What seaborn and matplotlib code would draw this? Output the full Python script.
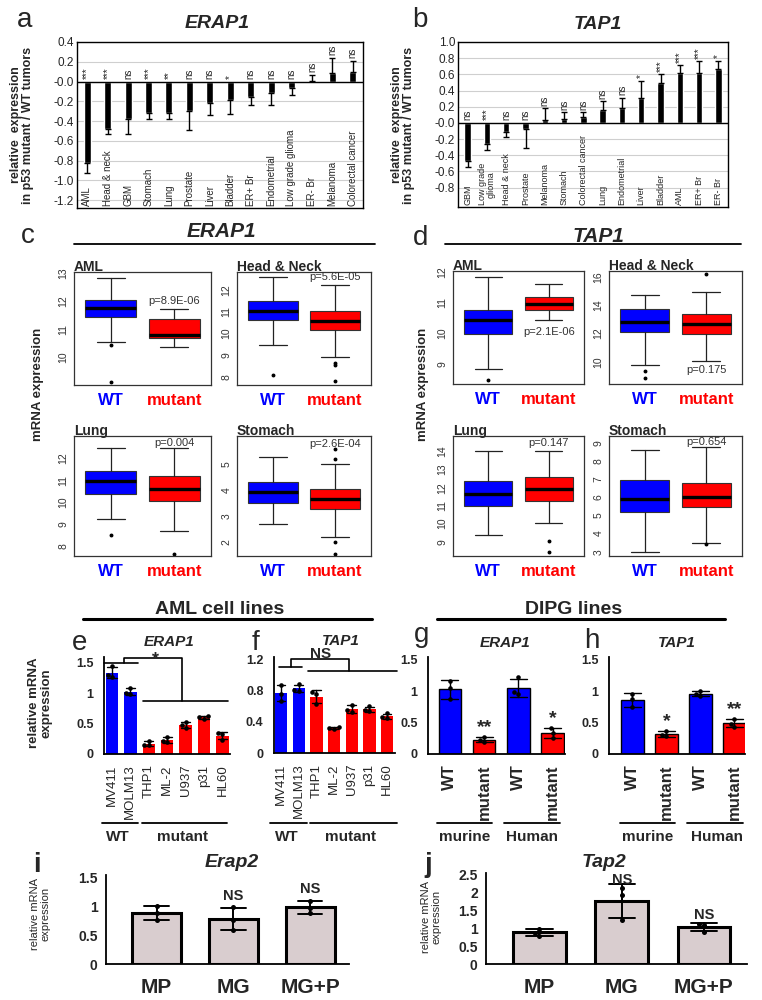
import numpy as np
import pandas as pd
import matplotlib.pyplot as plt
import seaborn as sns
from matplotlib.lines import Line2D
from matplotlib.ticker import FormatStrFormatter

sns.set_theme(style='white')
plt.rcParams['font.family'] = ['Liberation Sans', 'DejaVu Sans']
plt.rcParams['axes.unicode_minus'] = False

# --- panel a: ERAP1, mutant / WT ratio by tumour type ---
a_tumors = ['AML', 'Head & neck', 'GBM', 'Stomach', 'Lung', 'Prostate', 'Liver', 'Bladder',
            'ER+ Br', 'Endometrial', 'Low grade glioma', 'ER- Br', 'Melanoma', 'Colorectal cancer']
a_rel = [-0.82, -0.48, -0.38, -0.32, -0.32, -0.30, -0.22, -0.19, -0.16, -0.12, -0.07, 0.005, 0.09, 0.10]
a_err_end = [-0.93, -0.53, -0.53, -0.38, -0.38, -0.49, -0.34, -0.33, -0.24, -0.24, -0.14, 0.07, 0.24, 0.21]
a_sig = ['***', '***', 'ns', '***', '**', 'ns', 'ns', '*', 'ns', 'ns', 'ns', 'ns', 'ns', 'ns']

# --- panel b: TAP1 ---
b_tumors = ['GBM', 'Low grade\nglioma', 'Head & neck', 'Prostate', 'Melanoma', 'Stomach',
            'Colorectal cancer', 'Lung', 'Endometrial', 'Liver', 'Bladder', 'AML', 'ER+ Br', 'ER- Br']
b_rel = [-0.47, -0.26, -0.11, -0.07, 0.04, 0.05, 0.07, 0.16, 0.18, 0.31, 0.49, 0.62, 0.62, 0.67]
b_err_end = [-0.55, -0.34, -0.18, -0.31, 0.18, 0.135, 0.135, 0.265, 0.31, 0.52, 0.60, 0.71, 0.76, 0.77]
b_sig = ['ns', '***', 'ns', 'ns', 'ns', 'ns', 'ns', 'ns', 'ns', '*', '***', '***', '***', '*']

# --- panels c / d: box stats [whislo, q1, med, q3, whishi] ---
c_aml_wt, c_aml_mut = [10.55, 11.43, 11.75, 12.03, 12.83], [10.36, 10.69, 10.80, 11.38, 11.74]
c_aml_wt_out, c_aml_mut_out = [10.42, 9.1], []
c_hn_wt, c_hn_mut = [9.45, 10.6, 11.0, 11.5, 12.6], [8.92, 10.14, 10.55, 11.0, 12.23]
c_hn_wt_out, c_hn_mut_out = [8.1], [8.65, 8.56, 7.8]
c_lung_wt, c_lung_mut = [9.26, 10.35, 10.96, 11.4, 12.45], [8.68, 10.04, 10.62, 11.17, 12.45]
c_lung_wt_out, c_lung_mut_out = [8.53], [7.67]
c_st_wt, c_st_mut = [2.67, 3.49, 3.93, 4.29, 5.25], [2.17, 3.27, 3.65, 4.01, 5.0]
c_st_wt_out, c_st_mut_out = [], [5.19, 5.57, 2.0, 1.55]

d_aml_wt, d_aml_mut = [8.86, 10.0, 10.45, 10.77, 11.85], [10.45, 10.75, 10.97, 11.2, 11.62]
d_aml_wt_out, d_aml_mut_out = [8.49], []
d_hn_wt, d_hn_mut = [9.77, 12.1, 12.85, 13.75, 14.7], [10.1, 12.0, 12.65, 13.4, 14.95]
d_hn_wt_out, d_hn_mut_out = [9.4, 8.87], [16.2]
d_lung_wt, d_lung_mut = [9.37, 11.0, 11.66, 12.36, 14.03], [10.06, 11.23, 11.9, 12.6, 14.05]
d_lung_wt_out, d_lung_mut_out = [], [9.05, 8.4]
d_st_wt, d_st_mut = [2.97, 5.2, 5.94, 6.95, 8.6], [3.5, 5.48, 6.05, 6.8, 8.8]
d_st_wt_out, d_st_mut_out = [], [3.45]

# --- panels e / f: AML cell lines, triplicates ---
aml_lines = ['MV411', 'MOLM13', 'THP1', 'ML-2', 'U937', 'p31', 'HL60']
e_reps = [[1.44, 1.30, 1.27], [1.09, 1.00, 0.98], [0.22, 0.15, 0.14], [0.28, 0.21, 0.19],
          [0.52, 0.47, 0.43], [0.63, 0.60, 0.58], [0.34, 0.33, 0.23]]
f_reps = [[0.87, 0.76, 0.67], [0.88, 0.81, 0.80], [0.78, 0.76, 0.63], [0.33, 0.32, 0.31],
          [0.62, 0.55, 0.53], [0.60, 0.55, 0.54], [0.51, 0.46, 0.45]]

# --- panels g / h: DIPG lines ---
dipg_keys = ['WT murine', 'mutant murine', 'WT human', 'mutant human']
dipg_ticks = ['WT', 'mutant', 'WT', 'mutant']
g_reps = [[1.17, 1.05, 0.87], [0.27, 0.22, 0.19], [1.22, 0.98, 0.96], [0.41, 0.34, 0.26]]
h_reps = [[0.96, 0.87, 0.75], [0.37, 0.30, 0.29], [1.00, 0.95, 0.92], [0.56, 0.48, 0.43]]
g_sig = ['', '**', '', '*']
h_sig = ['', '*', '', '**']

# --- panels i / j ---
treat = ['MP', 'MG', 'MG+P']
i_reps = [[1.00, 0.89, 0.76], [0.98, 0.77, 0.60], [1.09, 0.97, 0.88]]
j_reps = [[0.99, 0.87, 0.79], [2.13, 1.92, 1.22], [1.12, 1.08, 0.90]]
i_sig = ['', 'NS', 'NS']
j_sig = ['', 'NS', 'NS']

BLUE, RED, GREY = '#0000ff', '#ff0000', '#d9cdcf'

W, H = 762, 1000
fig = plt.figure(figsize=(W / 100, H / 100), dpi=100)
fig.patch.set_facecolor('white')


def px_axes(x0, y0, x1, y1):
    return fig.add_axes([x0 / W, 1 - y1 / H, (x1 - x0) / W, (y1 - y0) / H])


def ftext(x, y, s, **kw):
    fig.text(x / W, 1 - y / H, s, **kw)


def fline(x0, x1, y, lw=1.3):
    fig.add_artist(Line2D([x0 / W, x1 / W], [1 - y / H, 1 - y / H], color='black', lw=lw))


def tumor_bars(ax, names, rel, err_end, sig, ylim, yticks, lab_fs):
    sns.barplot(x=names, y=rel, color='black', width=0.34, saturation=1, errorbar=None, ax=ax)
    idx = np.arange(len(names))
    rel_a, end = np.array(rel), np.array(err_end)
    down = np.where(end < rel_a, rel_a - end, 0)
    up = np.where(end > rel_a, end - rel_a, 0)
    ax.errorbar(idx, rel_a, yerr=[down, up], fmt='none', ecolor='black',
                elinewidth=1, capsize=2.5, capthick=1)
    for i, (n, e, s) in enumerate(zip(names, err_end, sig)):
        ax.text(i, max(0, e) + 0.03, s, rotation=90, ha='center', va='bottom', fontsize=7)
        ax.text(i, ylim[0] + 0.02, n, rotation=90, ha='center', va='bottom',
                fontsize=lab_fs, linespacing=0.85)
    ax.axhline(0, color='black', lw=1)
    ax.set_ylim(*ylim)
    ax.set_xlim(-0.5, len(names) - 0.5)
    ax.set_yticks(yticks)
    ax.yaxis.set_major_formatter(FormatStrFormatter('%.1f'))
    ax.set_xticks([])
    ax.grid(axis='y', color='#cfcfcf', lw=0.8)
    ax.set_axisbelow(True)
    ax.tick_params(axis='y', length=0, labelsize=8.5, pad=2)
    ax.set_xlabel('')
    ax.set_ylabel('')
    for sp in ax.spines.values():
        sp.set_color('black')
        sp.set_linewidth(1)


def box_pair(ax, wt, mut, wt_out, mut_out, ylim, yticks, title, ptxt, py):
    stats = []
    for s, out in ((wt, wt_out), (mut, mut_out)):
        stats.append(dict(whislo=s[0], q1=s[1], med=s[2], q3=s[3], whishi=s[4], fliers=out))
    bp = ax.bxp(stats, positions=[1, 2], widths=0.8, patch_artist=True, showfliers=True,
                capwidths=0.45,
                boxprops=dict(edgecolor='#333333', lw=0.8),
                medianprops=dict(color='black', lw=2.4),
                whiskerprops=dict(color='#222222', lw=0.9),
                capprops=dict(color='#222222', lw=0.9),
                flierprops=dict(marker='o', markersize=1.8, markerfacecolor='black',
                                markeredgecolor='black'))
    for patch, c in zip(bp['boxes'], [BLUE, RED]):
        patch.set_facecolor(c)
    ax.set_xlim(0.42, 2.58)
    ax.set_ylim(*ylim)
    ax.set_yticks(yticks)
    ax.yaxis.set_major_formatter(FormatStrFormatter('%g'))
    ax.set_xticks([1, 2])
    ax.set_xticklabels(['WT', 'mutant'], fontsize=12, fontweight='bold')
    for lab, c in zip(ax.get_xticklabels(), [BLUE, RED]):
        lab.set_color(c)
    for lab in ax.get_yticklabels():
        lab.set_rotation(90)
        lab.set_va('center')
    ax.tick_params(axis='both', direction='out', length=3, width=0.8, color='#333333')
    ax.tick_params(axis='y', labelsize=7.5, labelcolor='#333333', pad=1)
    ax.tick_params(axis='x', pad=3)
    ax.set_title(title, loc='left', fontweight='bold', fontsize=10, pad=1)
    ax.text(2, py, ptxt, ha='center', va='center', fontsize=8, color='#333333')
    for sp in ax.spines.values():
        sp.set_color('#333333')
        sp.set_linewidth(0.9)


def rep_bars(ax, keys, reps, colors, width, capsize, edgecolor, lw, err_lw, dot_size):
    df = pd.DataFrame({'grp': np.repeat(keys, [len(r) for r in reps]),
                       'val': np.concatenate(reps)})
    sns.barplot(data=df, x='grp', y='val', hue='grp', palette=dict(zip(keys, colors)),
                legend=False, order=keys, errorbar='sd', capsize=capsize, width=width,
                saturation=1, err_kws={'color': 'black', 'linewidth': err_lw},
                edgecolor=edgecolor, linewidth=lw, ax=ax)
    sns.swarmplot(data=df, x='grp', y='val', order=keys, color='black', size=dot_size, ax=ax)
    ax.set_xlabel('')
    ax.set_ylabel('')
    sns.despine(ax=ax)
    for sp in ('left', 'bottom'):
        ax.spines[sp].set_color('black')
        ax.spines[sp].set_linewidth(1.3)
    ax.tick_params(axis='both', direction='out', length=4, width=1.2, color='black')
    ax.yaxis.set_major_formatter(FormatStrFormatter('%g'))


# ---------------- a ----------------
ax = px_axes(77, 42, 363, 208)
tumor_bars(ax, a_tumors, a_rel, a_err_end, a_sig, (-1.28, 0.4),
           np.round(np.arange(-1.2, 0.41, 0.2), 1), 7)
ftext(25, 27, 'a', fontsize=20, ha='center', va='baseline')
ftext(217, 28, 'ERAP1', fontsize=14, fontweight='bold', style='italic', ha='center', va='baseline')
ftext(22, 125, 'relative  expression\nin p53 mutant / WT tumors', rotation=90, fontsize=9,
      fontweight='bold', ha='center', va='center', linespacing=1.1)

# ---------------- b ----------------
ax = px_axes(458, 42, 728, 207)
tumor_bars(ax, b_tumors, b_rel, b_err_end, b_sig, (-1.04, 1.0),
           np.round(np.arange(-0.8, 1.01, 0.2), 1), 6.5)
ftext(420, 27, 'b', fontsize=20, ha='center', va='baseline')
ftext(598, 29, 'TAP1', fontsize=14, fontweight='bold', style='italic', ha='center', va='baseline')
ftext(403, 125, 'relative  expression\nin p53 mutant / WT tumors', rotation=90, fontsize=9,
      fontweight='bold', ha='center', va='center', linespacing=1.1)

# ---------------- c ----------------
ftext(28, 243, 'c', fontsize=20, ha='center', va='baseline')
ftext(221, 237, 'ERAP1', fontsize=15, fontweight='bold', style='italic', ha='center', va='baseline')
fline(74, 375, 243.5)
ftext(38, 384, 'mRNA expression', rotation=90, fontsize=9.5, fontweight='bold',
      ha='center', va='center')
box_pair(px_axes(74, 272, 211, 385), c_aml_wt, c_aml_mut, c_aml_wt_out, c_aml_mut_out,
         (9.0, 13.05), [10, 11, 12, 13], 'AML', 'p=8.9E-06', 12.0)
box_pair(px_axes(237, 272, 371, 385), c_hn_wt, c_hn_mut, c_hn_wt_out, c_hn_mut_out,
         (7.62, 12.81), [8, 9, 10, 11, 12], 'Head & Neck', 'p=5.6E-05', 12.56)
box_pair(px_axes(74, 436, 211, 556), c_lung_wt, c_lung_mut, c_lung_wt_out, c_lung_mut_out,
         (7.56, 13.0), [8, 9, 10, 11, 12], 'Lung', 'p=0.004', 12.7)
box_pair(px_axes(237, 436, 371, 556), c_st_wt, c_st_mut, c_st_wt_out, c_st_mut_out,
         (1.46, 6.06), [2, 3, 4, 5], 'Stomach', 'p=2.6E-04', 5.75)

# ---------------- d ----------------
ftext(421, 245, 'd', fontsize=20, ha='center', va='baseline')
ftext(598, 242, 'TAP1', fontsize=15, fontweight='bold', style='italic', ha='center', va='baseline')
fline(445, 741, 244.5)
ftext(423, 384, 'mRNA expression', rotation=90, fontsize=9.5, fontweight='bold',
      ha='center', va='center')
box_pair(px_axes(453, 271, 584, 384), d_aml_wt, d_aml_mut, d_aml_wt_out, d_aml_mut_out,
         (8.36, 12.03), [9, 10, 11, 12], 'AML', 'p=2.1E-06', 10.06)
box_pair(px_axes(609, 271, 742, 384), d_hn_wt, d_hn_mut, d_hn_wt_out, d_hn_mut_out,
         (8.46, 16.4), [10, 12, 14, 16], 'Head & Neck', 'p=0.175', 9.45)
box_pair(px_axes(453, 436, 584, 556), d_lung_wt, d_lung_mut, d_lung_wt_out, d_lung_mut_out,
         (8.2, 14.87), [9, 10, 11, 12, 13, 14], 'Lung', 'p=0.147', 14.5)
box_pair(px_axes(609, 436, 742, 556), d_st_wt, d_st_mut, d_st_wt_out, d_st_mut_out,
         (2.76, 9.4), [3, 4, 5, 6, 7, 8, 9], 'Stomach', 'p=0.654', 9.05)

# ---------------- e / f headers ----------------
ftext(220, 614, 'AML cell lines', fontsize=14, fontweight='bold', ha='center', va='baseline')
fline(83, 372, 618.5, lw=2.2)
ftext(574, 614, 'DIPG lines', fontsize=14, fontweight='bold', ha='center', va='baseline')
fline(437, 725, 618.5, lw=2.2)
ftext(40, 703, 'relative mRNA\nexpression', rotation=90, fontsize=9.5, fontweight='bold',
      ha='center', va='center', linespacing=1.1)

aml_colors = [BLUE, BLUE, RED, RED, RED, RED, RED]

# e
ax = px_axes(104, 656.6, 230, 754)
rep_bars(ax, aml_lines, e_reps, aml_colors, 0.67, 0.5, 'none', 0, 1.0, 3.3)
ax.set_xlim(-0.43, 6.41)
ax.set_ylim(0, 1.6)
ax.set_yticks([0, 0.5, 1, 1.5])
ax.set_xticks(range(7))
ax.set_xticklabels(aml_lines, rotation=90, fontsize=9.5)
ax.tick_params(axis='y', labelsize=9)
for lab in ax.get_yticklabels():
    lab.set_fontweight('bold')
ax.plot([-0.43, 1.42], [1.5, 1.5], color='black', lw=1.2, clip_on=False)
ax.plot([0.65, 0.65, 3.79, 3.79], [1.5, 1.58, 1.58, 0.875], color='black', lw=1.2, clip_on=False)
ax.plot([1.68, 6.29], [0.875, 0.875], color='black', lw=1.2, clip_on=False)
ax.text(2.37, 1.47, '*', fontsize=13, fontweight='bold', ha='center', va='baseline')
ftext(79.5, 650, 'e', fontsize=20, ha='center', va='baseline')
ftext(169, 646, 'ERAP1', fontsize=11, fontweight='bold', style='italic', ha='center', va='baseline')

# f
ax = px_axes(274, 656.7, 395, 753.3)
rep_bars(ax, aml_lines, f_reps, aml_colors, 0.7, 0.5, 'none', 0, 1.0, 3.3)
ax.set_xlim(-0.4, 6.45)
ax.set_ylim(0, 1.234)
ax.set_yticks([0, 0.4, 0.8, 1.2])
ax.set_xticks(range(7))
ax.set_xticklabels(aml_lines, rotation=90, fontsize=9.5)
ax.tick_params(axis='y', labelsize=9)
for lab in ax.get_yticklabels():
    lab.set_fontweight('bold')
ax.plot([-0.11, 1.19], [1.10, 1.10], color='black', lw=1.2, clip_on=False)
ax.plot([0.56, 0.56, 3.84, 3.84], [1.10, 1.21, 1.21, 1.055], color='black', lw=1.2, clip_on=False)
ax.plot([1.54, 6.55], [1.055, 1.055], color='black', lw=1.2, clip_on=False)
ax.text(2.26, 1.222, 'NS', fontsize=11, fontweight='bold', ha='center', va='baseline')
ftext(255.7, 650, 'f', fontsize=20, ha='center', va='baseline')
ftext(341, 645, 'TAP1', fontsize=11, fontweight='bold', style='italic', ha='center', va='baseline')

# group lines under e / f
for x0, x1, xc, lab in [(101.7, 138, 118, 'WT'), (141.7, 226.7, 183, 'mutant'),
                        (270, 306.7, 287, 'WT'), (310, 397, 350, 'mutant')]:
    fline(x0, x1, 823)
    ftext(xc, 841, lab, fontsize=11, fontweight='bold', ha='center', va='baseline')

dipg_colors = [BLUE, RED, BLUE, RED]

# g / h
for (x0, x1, xlim, reps, sig, letter, lx, ly, title, tx) in [
        (428, 565, (-0.64, 3.36), g_reps, g_sig, 'g', 421.7, 642, 'ERAP1', 505),
        (609, 745, (-0.69, 3.31), h_reps, h_sig, 'h', 592, 648, 'TAP1', 677)]:
    ax = px_axes(x0, 656.7, x1, 754)
    rep_bars(ax, dipg_keys, reps, dipg_colors, 0.66, 0.5, 'black', 1.0, 1.0, 3.3)
    ax.set_xlim(*xlim)
    ax.set_ylim(0, 1.55)
    ax.set_yticks([0, 0.5, 1, 1.5])
    ax.set_xticks(range(4))
    ax.set_xticklabels(dipg_ticks, rotation=90, fontsize=12, fontweight='bold')
    ax.tick_params(axis='y', labelsize=9)
    for lab in ax.get_yticklabels():
        lab.set_fontweight('bold')
    for i, (r, s) in enumerate(zip(reps, sig)):
        if s:
            ax.text(i, np.mean(r) + np.std(r, ddof=1) + 0.02, s, fontsize=14,
                    fontweight='bold', ha='center', va='bottom')
    ftext(lx, ly, letter, fontsize=20, ha='center', va='baseline')
    ftext(tx, 647, title, fontsize=11, fontweight='bold', style='italic', ha='center', va='baseline')

for x0, x1, xc, lab in [(436.7, 491.7, 465, 'murine'), (504, 560, 531.7, 'Human'),
                        (620, 675, 648, 'murine'), (687, 743, 716.7, 'Human')]:
    fline(x0, x1, 823)
    ftext(xc, 841, lab, fontsize=11, fontweight='bold', ha='center', va='baseline')

# ---------------- i / j ----------------
for (x0, y0, x1, y1, xlim, ylim, yticks, reps, sig, sig_gap, title, tx, letter, lx, ylx, yly) in [
        (106, 875, 349.3, 964.3, (-0.66, 2.51), (0, 1.54), [0, 0.5, 1, 1.5], i_reps, i_sig,
         [0, 0.14, 0.14], 'Erap2', 231.7, 'i', 36.7, 40, 914),
        (486, 873, 746.7, 964, (-0.65, 2.52), (0, 2.55), [0, 0.5, 1, 1.5, 2, 2.5], j_reps, j_sig,
         [0, 0.02, 0.1], 'Tap2', 604, 'j', 428, 431, 917)]:
    ax = px_axes(x0, y0, x1, y1)
    rep_bars(ax, treat, reps, [GREY] * 3, 0.64, 0.32, 'black', 2.2, 1.4, 3.6)
    ax.set_xlim(*xlim)
    ax.set_ylim(*ylim)
    ax.set_yticks(yticks)
    ax.set_xticks(range(3))
    ax.set_xticklabels(treat, fontsize=15, fontweight='bold')
    ax.tick_params(axis='x', pad=6)
    ax.tick_params(axis='y', labelsize=10, pad=2)
    for lab in ax.get_yticklabels():
        lab.set_fontweight('bold')
    for i, (r, s, gap) in enumerate(zip(reps, sig, sig_gap)):
        if s:
            ax.text(i, np.mean(r) + np.std(r, ddof=1) + gap, s, fontsize=10.5,
                    fontweight='bold', ha='center', va='baseline')
    ftext(tx, 867, title, fontsize=14, fontweight='bold', style='italic', ha='center', va='baseline')
    ftext(lx, 872, letter, fontsize=20, fontweight='bold', ha='center', va='baseline')
    ftext(ylx, yly, 'relative mRNA\nexpression', rotation=90, fontsize=8,
          ha='center', va='center', linespacing=1.05)

fig.savefig('out.png', dpi=100, facecolor='white')
